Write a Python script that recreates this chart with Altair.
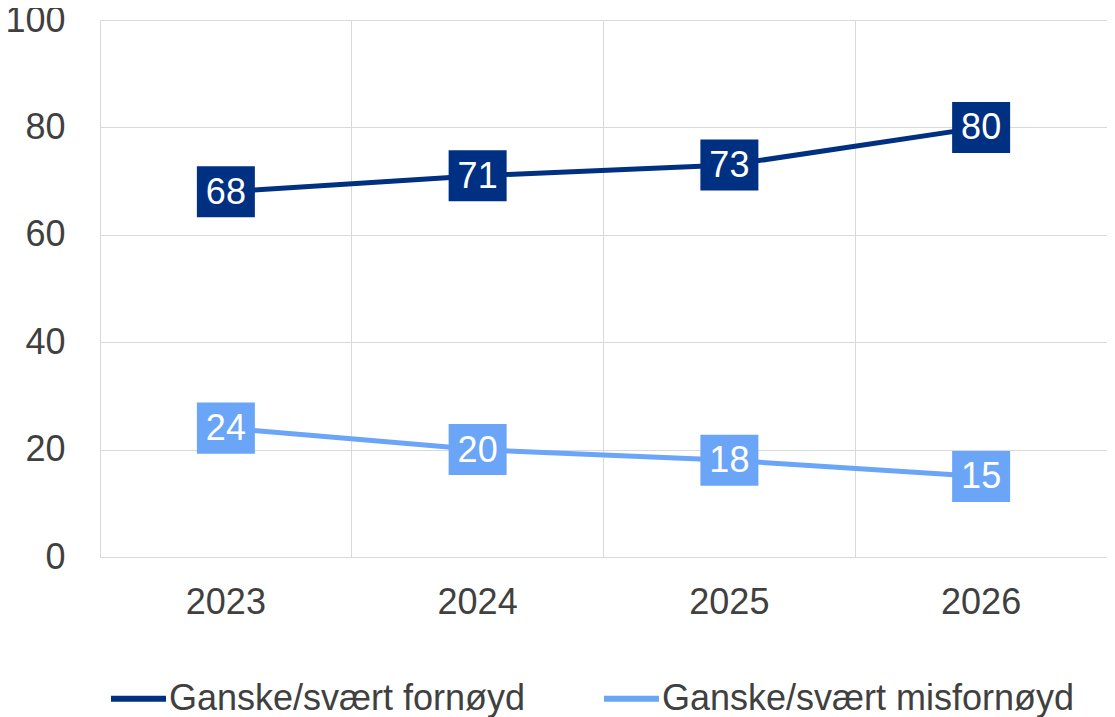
import altair as alt
import pandas as pd

years = ["2023", "2024", "2025", "2026"]
series_names = ["Ganske/svært fornøyd", "Ganske/svært misfornøyd"]
fornoyd = [68, 71, 73, 80]
misfornoyd = [24, 20, 18, 15]
colors = ["#003082", "#6AA5F7"]

rows = []
for y, v in zip(years, fornoyd):
    rows.append({"year": y, "series": series_names[0], "value": v})
for y, v in zip(years, misfornoyd):
    rows.append({"year": y, "series": series_names[1], "value": v})
df = pd.DataFrame(rows)

FONT = "Liberation Sans"
FS = 36

x = alt.X(
    "year:N",
    bandPosition=0.5,
    scale=alt.Scale(type="band", paddingInner=0, paddingOuter=0, domain=years),
    axis=alt.Axis(
        title=None, labelAngle=0, domain=False, ticks=False, labelPadding=28,
        grid=True, bandPosition=0, gridColor="#d9d9d9", gridWidth=1,
        labelFontSize=FS, labelFont=FONT, labelColor="#404040",
    ),
)
y = alt.Y(
    "value:Q",
    scale=alt.Scale(domain=[0, 100], nice=False),
    axis=alt.Axis(
        title=None, values=[0, 20, 40, 60, 80, 100], domain=False, ticks=False,
        labelPadding=35, gridColor="#d9d9d9", gridWidth=1,
        labelFontSize=FS, labelFont=FONT, labelColor="#404040",
    ),
)

base = alt.Chart(df)

lines = base.mark_line(strokeWidth=5).encode(
    x=x, y=y,
    color=alt.Color(
        "series:N",
        scale=alt.Scale(domain=series_names, range=colors),
        legend=alt.Legend(title=None),
    ),
    detail="series:N",
)

boxes = base.mark_point(
    filled=True, opacity=1, size=3364,
    shape="M-1,-0.88L1,-0.88L1,0.88L-1,0.88Z",
).encode(
    x=x, y=y,
    fill=alt.Fill("series:N", scale=alt.Scale(domain=series_names, range=colors), legend=None),
)

labels = base.mark_text(
    color="white", fontSize=FS, font=FONT, baseline="middle", align="center", dy=1,
).encode(x=x, y=y, text="value:Q")

chart = (
    alt.layer(lines, boxes, labels)
    .properties(
        width=1007, height=537,
        autosize=alt.AutoSizeParams(type="none"),
        padding={"left": 92, "top": 12, "right": 0, "bottom": 160},
    )
    .configure_view(stroke="#d9d9d9", strokeWidth=1)
    .configure_legend(
        orient="none", legendX=8, legendY=648, direction="horizontal",
        symbolType="stroke", symbolSize=3025, symbolStrokeWidth=6,
        labelFontSize=FS, labelFont=FONT, labelColor="#404040",
        columnPadding=66, labelOffset=0, labelLimit=600, symbolOpacity=1,
    )
)

chart.save("out.html", embed_options={"renderer": "svg", "actions": False})
